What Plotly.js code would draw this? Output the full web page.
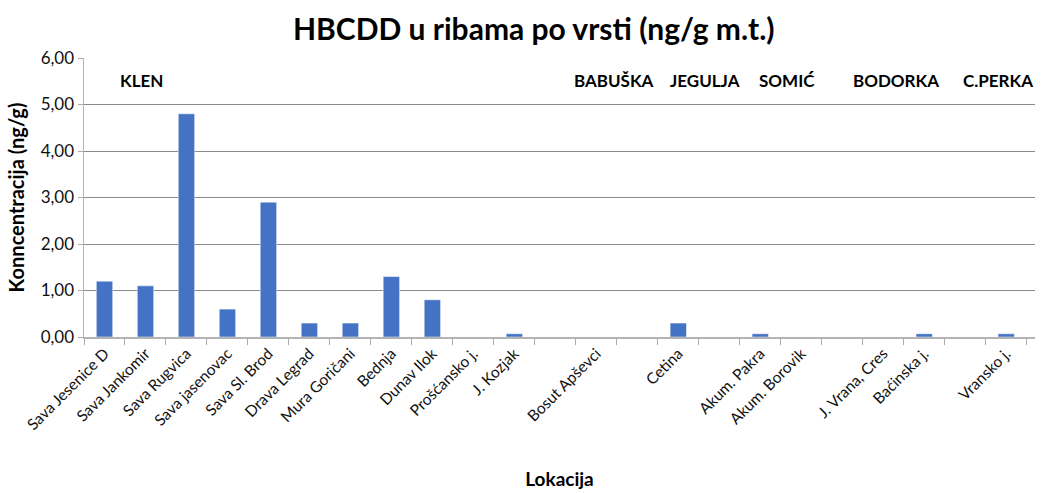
<!DOCTYPE html>
<html>
<head>
<meta charset="utf-8">
<script src="https://cdn.plot.ly/plotly-3.0.1.min.js"></script>
<style>html,body{margin:0;padding:0;background:#fff;}#chart{width:1057px;height:493px;}</style>
</head>
<body>
<div id="chart"></div>
<script>
const locations = ["Sava Jesenice D","Sava Jankomir","Sava Rugvica","Sava jasenovac","Sava Sl. Brod","Drava Legrad","Mura Goričani","Bednja","Dunav Ilok","Prošćansko j.","J. Kozjak"," ","Bosut Apševci","  ","Cetina","   ","Akum. Pakra","Akum. Borovik","    ","J. Vrana, Cres","Baćinska j.","     ","Vransko j."];
const values = [1.2,1.1,4.8,0.6,2.9,0.3,0.3,1.3,0.8,0,0.07,null,0,null,0.3,null,0.07,0,null,0,0.07,null,0.07];
const species = ["KLEN","BABUŠKA","JEGULJA","SOMIĆ","BODORKA","C.PERKA"];
const speciesPos = [0.9,12.43,14.65,16.66,19.31,21.8];

const font = "Lato, 'Open Sans', sans-serif";
const annotations = species.map((s,i)=>({
  text: "<b>"+s+"</b>", x: speciesPos[i], xref: "x", y: 0.92, yref: "paper",
  showarrow: false, font: {family: font, size: 17, color: "#000"}, xanchor: "center", yanchor: "middle"
}));

Plotly.newPlot("chart", [{
  type: "bar", x: locations, y: values,
  marker: {color: "#4472C4", line: {color: "#ffffff", width: 0.5}},
  width: 0.4
}], {
  width: 1057, height: 493,
  margin: {l: 84, r: 22, t: 58, b: 156},
  paper_bgcolor: "#fff", plot_bgcolor: "#fff",
  title: {text: "<b>HBCDD u ribama po vrsti (ng/g m.t.)</b>", x: 0.505, xanchor: "center", y: 0.94, yanchor: "middle",
          font: {family: font, size: 30, color: "#000"}},
  separators: ",.",
  showlegend: false,
  xaxis: {
    type: "category", categoryorder: "array", categoryarray: locations,
    tickangle: -45, tickfont: {family: font, size: 15.5, color: "#111"},
    ticks: "outside", ticklen: 6, tickcolor: "#aaa", tickson: "boundaries",
    showline: true, linecolor: "#b3b3b3", linewidth: 1.5, showgrid: false,
    title: {text: "<b>Lokacija</b>", font: {family: font, size: 19, color: "#000"}, standoff: 40}
  },
  yaxis: {
    range: [0, 6], dtick: 1, tickformat: ".2f",
    tickfont: {family: font, size: 17, color: "#111"},
    ticks: "outside", ticklen: 5, tickcolor: "#aaa",
    showline: true, linecolor: "#b3b3b3", linewidth: 1.5,
    showgrid: true, gridcolor: "#8a8a8a", gridwidth: 1, zeroline: false,
    title: {text: "<b>Konncentracija (ng/g)</b>", font: {family: font, size: 20, color: "#000"}, standoff: 10}
  },
  annotations: annotations
}, {displayModeBar: false, staticPlot: true});
</script>
</body>
</html>
